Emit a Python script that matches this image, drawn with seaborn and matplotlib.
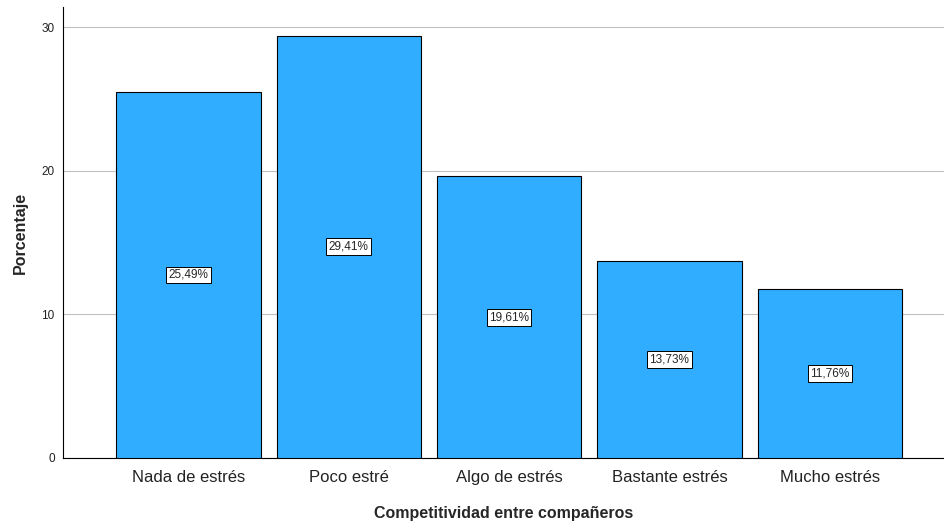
import numpy as np
import pandas as pd
import matplotlib
matplotlib.use("Agg")
import matplotlib.pyplot as plt
import seaborn as sns

# data
categorias = ["Nada de estrés", "Poco estré", "Algo de estrés", "Bastante estrés", "Mucho estrés"]
porcentajes = [25.49, 29.41, 19.61, 13.73, 11.76]
etiquetas = ["25,49%", "29,41%", "19,61%", "13,73%", "11,76%"]

df = pd.DataFrame({"cat": categorias, "pct": porcentajes})

sns.set_style("white")
plt.rcParams["font.family"] = ["Liberation Sans", "DejaVu Sans"]

fig = plt.figure(figsize=(9.44, 5.23), dpi=100)
ax = fig.add_axes([0.0667, 0.1243, 0.9333, 0.8623])

sns.barplot(data=df, x="cat", y="pct", color="#31ADFF", saturation=1,
            width=0.9, edgecolor="black", linewidth=0.8, ax=ax, zorder=3)

for i, (v, t) in enumerate(zip(porcentajes, etiquetas)):
    ax.text(i, v / 2, t, ha="center", va="center", fontsize=8.5, zorder=5,
            bbox=dict(boxstyle="square,pad=0.2", fc="white", ec="black", lw=0.7))

ax.set_xlim(-0.783, 4.713)
ax.set_ylim(0, 31.4)
ax.set_yticks([0, 10, 20, 30])
ax.yaxis.grid(True, color="#c0c0c0", linewidth=0.8, zorder=0)
ax.set_axisbelow(True)
ax.tick_params(axis="y", labelsize=8.5, length=0, pad=6, colors="#222222")
ax.tick_params(axis="x", labelsize=12, length=0, pad=9, colors="#222222")

for s in ["top", "right"]:
    ax.spines[s].set_visible(False)
for s in ["left", "bottom"]:
    ax.spines[s].set_color("black")
    ax.spines[s].set_linewidth(0.8)

ax.set_xlabel("Competitividad entre compañeros", fontsize=11.5, fontweight="bold", labelpad=15)
ax.set_ylabel("Porcentaje", fontsize=11.5, fontweight="bold", labelpad=10)

fig.savefig("out.png", dpi=100)
